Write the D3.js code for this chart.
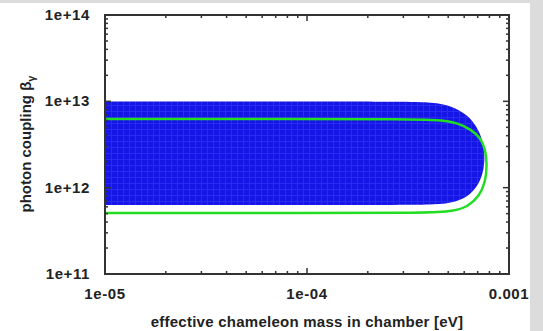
<!DOCTYPE html>
<html>
<head>
<meta charset="utf-8">
<script src="https://cdn.jsdelivr.net/npm/d3@7"></script>
<style>
  body { margin: 0; background: #fff; }
  text { font-family: "Liberation Sans", Arial, sans-serif; fill: #222; }
</style>
</head>
<body>
<div id="chart"></div>
<script>
// tick labels
const xTicks = [1e-5, 1e-4, 1e-3];
const xTickLabels = ["1e-05", "1e-04", "0.001"];
const yTicks = [1e11, 1e12, 1e13, 1e14];
const yTickLabels = ["1e+11", "1e+12", "1e+13", "1e+14"];

// excluded region (blue), traced clockwise: [mass eV, coupling]
const blueEdge = [
  [1e-5, 9.95e12], [1e-5, 9.95e12], [1e-4, 9.95e12], [3e-4, 9.9e12], [4.2e-4, 9.75e12],
  [5.2e-4, 8.9e12], [6.2e-4, 7.0e12], [6.9e-4, 5.2e12], [7.4e-4, 3.6e12],
  [7.62e-4, 2.3e12], [7.45e-4, 1.45e12], [7.0e-4, 1.05e12], [6.4e-4, 8.2e11],
  [5.5e-4, 6.8e11], [4.3e-4, 6.35e11], [3e-4, 6.3e11], [1e-4, 6.3e11],
  [1e-5, 6.3e11], [1e-5, 6.3e11]
];

// green contour
const greenEdge = [
  [1e-5, 6.24e12], [1e-5, 6.24e12], [1e-4, 6.24e12], [3e-4, 6.22e12], [4.6e-4, 6.1e12],
  [5.6e-4, 5.6e12], [6.5e-4, 4.7e12], [7.2e-4, 3.8e12], [7.6e-4, 2.9e12],
  [7.8e-4, 1.93e12], [7.65e-4, 1.15e12], [7.1e-4, 7.9e11], [6.3e-4, 6.1e11],
  [5.3e-4, 5.3e11], [4e-4, 5.1e11], [1e-4, 5.08e11], [1e-5, 5.08e11], [1e-5, 5.08e11]
];

var margin = {top: 15, right: 34, bottom: 57, left: 105},
    width = 509 - margin.left,
    height = 274 - margin.top;

var svg = d3.select("#chart")
  .append("svg")
    .attr("width", 543)
    .attr("height", 331);

var defs = svg.append("defs");
var pat = defs.append("pattern")
    .attr("id", "grid")
    .attr("patternUnits", "userSpaceOnUse")
    .attr("width", 6).attr("height", 6);
pat.append("rect").attr("width", 6).attr("height", 6).attr("fill", "#1515e6");
pat.append("path").attr("d", "M0,0.5H6M0.5,0V6")
    .attr("stroke", "#2a2af5").attr("stroke-width", 1);

defs.append("clipPath").attr("id", "clip")
  .append("rect").attr("width", width).attr("height", height);

var g = svg.append("g")
    .attr("transform", "translate(" + margin.left + "," + margin.top + ")");

var x = d3.scaleLog().domain([1e-5, 1e-3]).range([0, width]);
var y = d3.scaleLog().domain([1e11, 1e14]).range([height, 0]);

var line = d3.line()
    .x(function(d) { return x(d[0]); })
    .y(function(d) { return y(d[1]); })
    .curve(d3.curveBasis);

var plot = g.append("g").attr("clip-path", "url(#clip)");

plot.append("path")
    .attr("d", line(blueEdge) + "L-2," + y(6.3e11) + "L-2," + y(9.95e12) + "Z")
    .attr("fill", "url(#grid)");

plot.append("path")
    .attr("d", line(greenEdge))
    .attr("fill", "none")
    .attr("stroke", "#22dd22")
    .attr("stroke-width", 2.5);

// minor + major ticks, all four sides, pointing in
function logTicks(scale) {
  var out = [];
  var d = scale.domain();
  for (var e = Math.round(Math.log10(d[0])); e < Math.round(Math.log10(d[1])); e++) {
    for (var k = 2; k <= 9; k++) out.push(k * Math.pow(10, e));
  }
  return out;
}

var ticksG = g.append("g").attr("stroke", "#333").attr("stroke-width", 1.5);
logTicks(x).forEach(function(v) {
  ticksG.append("line").attr("x1", x(v)).attr("x2", x(v)).attr("y1", height).attr("y2", height - 3);
  ticksG.append("line").attr("x1", x(v)).attr("x2", x(v)).attr("y1", 0).attr("y2", 3);
});
logTicks(y).forEach(function(v) {
  ticksG.append("line").attr("y1", y(v)).attr("y2", y(v)).attr("x1", 0).attr("x2", 3);
  ticksG.append("line").attr("y1", y(v)).attr("y2", y(v)).attr("x1", width).attr("x2", width - 3);
});
xTicks.forEach(function(v) {
  ticksG.append("line").attr("x1", x(v)).attr("x2", x(v)).attr("y1", height).attr("y2", height - 6);
  ticksG.append("line").attr("x1", x(v)).attr("x2", x(v)).attr("y1", 0).attr("y2", 6);
});
yTicks.forEach(function(v) {
  ticksG.append("line").attr("y1", y(v)).attr("y2", y(v)).attr("x1", 0).attr("x2", 6);
  ticksG.append("line").attr("y1", y(v)).attr("y2", y(v)).attr("x1", width).attr("x2", width - 6);
});

// frame
g.append("rect")
    .attr("width", width).attr("height", height)
    .attr("fill", "none").attr("stroke", "#333").attr("stroke-width", 2);

// tick labels
g.selectAll(".xl").data(xTicks).enter().append("text")
    .attr("x", function(d) { return x(d); })
    .attr("y", 299 - margin.top)
    .attr("text-anchor", "middle")
    .attr("font-size", "15px").attr("font-weight", "bold")
    .attr("letter-spacing", "0.6px")
    .text(function(d, i) { return xTickLabels[i]; });

g.selectAll(".yl").data(yTicks).enter().append("text")
    .attr("x", -15)
    .attr("y", function(d) { return y(d) + 5; })
    .attr("text-anchor", "end")
    .attr("font-size", "15px").attr("font-weight", "bold")
    .attr("letter-spacing", "0.6px")
    .text(function(d, i) { return yTickLabels[i]; });

// axis titles
svg.append("text")
    .attr("x", 307).attr("y", 327)
    .attr("text-anchor", "middle")
    .attr("font-size", "15px").attr("font-weight", "bold")
    .attr("letter-spacing", "0.25px")
    .text("effective chameleon mass in chamber [eV]");

var yl = svg.append("text")
    .attr("transform", "translate(31,144) rotate(-90)")
    .attr("text-anchor", "middle")
    .attr("font-size", "15px").attr("font-weight", "bold");
yl.append("tspan").text("photon coupling β");
yl.append("tspan").attr("font-size", "11px").attr("dy", 4).text("γ");

// page border (grey strips of the original image)
svg.append("rect").attr("x", 0).attr("y", 0).attr("width", 543).attr("height", 3).attr("fill", "#dcdcdc");
svg.append("rect").attr("x", 530).attr("y", 0).attr("width", 13).attr("height", 331).attr("fill", "#dcdcdc");
</script>
</body>
</html>
